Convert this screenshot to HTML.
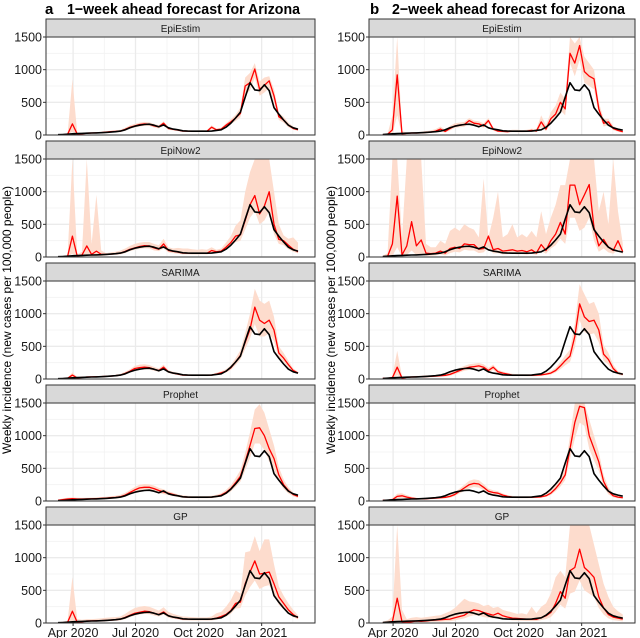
<!DOCTYPE html>
<html><head><meta charset="utf-8">
<style>
html,body{margin:0;padding:0;background:#fff;}
svg{display:block;font-family:"Liberation Sans",sans-serif;}
</style></head>
<body>
<svg id="chart" width="640" height="638" viewBox="0 0 640 638"></svg>
<script>
// ---------- data ----------
const models = ["EpiEstim","EpiNow2","SARIMA","Prophet","GP"];
const tickLabels = ["Apr 2020","Jul 2020","Oct 2020","Jan 2021"];
const tickDays = [22,113,205,297];         // days since 2020-03-10
const yTicks = [0,500,1000,1500];
// observed weekly incidence, week 0 = 2020-03-10
const truth = [5,8,12,18,22,25,28,30,32,35,40,45,50,60,80,110,135,150,160,165,150,125,155,110,90,80,65,60,58,58,58,58,60,70,80,120,180,260,350,580,800,690,680,770,680,420,320,230,150,110,90,75];
// 1-week ahead (weeks 0..50)
const w1Red = [
 [5,5,10,170,15,20,28,30,32,35,45,50,55,60,85,120,140,160,170,165,140,125,180,100,85,75,60,60,55,55,58,55,120,80,90,150,200,260,330,750,800,1010,700,760,830,600,280,230,150,100,80],
 [5,5,10,320,15,30,170,40,90,40,40,45,50,60,85,120,140,160,175,170,140,120,200,100,85,75,60,60,55,55,58,55,100,80,90,150,220,320,340,560,800,940,660,780,1000,500,270,250,180,120,80],
 [5,5,10,60,15,25,30,32,34,36,40,45,50,60,85,120,160,175,180,175,150,130,180,110,90,75,60,60,55,55,58,55,60,75,95,120,170,260,360,560,760,1100,900,850,900,750,400,320,220,130,90],
 [10,20,30,35,30,30,32,34,36,40,45,50,55,65,90,130,170,200,210,210,190,160,140,120,100,80,65,60,58,58,58,58,60,70,90,130,190,280,380,600,850,1110,1120,1000,800,650,400,250,160,100,70],
 [5,5,10,180,10,20,30,32,34,36,40,45,50,60,85,120,150,165,180,175,150,130,170,110,90,75,60,60,55,55,58,55,60,75,100,130,190,300,320,600,780,950,750,760,780,600,400,300,200,130,80]];
const w1Hi = [
 [10,10,20,850,30,30,40,40,45,50,60,65,70,80,110,150,170,190,200,195,170,150,210,125,100,90,75,75,70,70,75,70,150,100,110,180,240,310,420,880,950,1100,820,880,900,700,340,280,190,130,100],
 [10,10,20,1500,40,80,1500,200,950,100,60,70,80,100,130,170,200,220,230,230,200,180,280,150,130,140,130,130,120,110,120,110,150,110,130,220,320,480,560,1000,1300,1500,1500,1500,1500,1000,500,330,280,300,220],
 [10,10,20,100,30,35,40,42,45,48,52,58,65,78,110,150,200,220,225,215,185,160,220,135,110,95,75,75,70,70,72,70,75,95,120,150,210,320,440,700,1000,1380,1200,1150,1200,950,500,400,280,160,110],
 [20,40,50,55,50,48,50,52,55,60,65,72,80,95,125,170,215,250,260,255,235,200,180,150,125,100,85,80,75,75,75,75,80,95,120,170,240,350,470,740,1050,1400,1480,1350,1100,850,520,330,210,130,90],
 [10,20,30,700,60,50,60,60,65,70,80,85,90,100,140,190,230,250,260,250,220,190,240,170,140,120,100,95,90,85,85,85,100,150,170,250,350,500,450,1080,1100,1330,1100,1280,1280,900,560,420,300,200,120]];
const w1Lo = [
 [2,2,5,50,5,12,20,22,24,26,34,38,42,45,65,95,115,130,140,140,115,100,140,80,70,60,48,48,45,45,46,44,90,62,72,120,165,215,270,620,680,880,600,650,720,500,230,190,120,80,65],
 [2,2,5,50,5,10,30,10,20,15,25,30,35,40,60,90,110,125,135,130,100,90,130,70,60,50,40,40,38,38,40,38,60,55,65,110,160,230,250,420,600,700,500,560,700,350,200,180,120,80,55],
 [2,2,5,30,5,18,22,24,26,28,32,36,40,48,68,98,130,145,150,145,125,108,150,90,74,60,48,48,44,44,46,44,48,60,78,98,140,215,300,460,620,840,650,650,700,580,320,260,170,100,72],
 [2,5,12,18,15,15,18,20,22,25,30,34,38,45,65,95,125,150,160,160,145,120,105,90,75,60,48,44,42,42,42,42,45,52,68,98,145,215,295,470,660,880,880,780,600,480,300,185,115,70,48],
 [2,2,3,20,3,8,15,18,20,22,25,30,35,40,60,90,115,130,140,135,115,100,130,80,65,55,42,40,38,38,40,38,40,50,70,95,140,220,230,420,550,650,520,560,580,430,280,210,140,90,55]];
// 2-week ahead (weeks 1..51)
const w2Red = [
 [5,10,80,920,20,25,30,30,32,40,45,60,90,55,100,140,150,160,220,180,170,140,220,90,60,55,50,60,58,55,60,70,60,200,90,250,320,500,400,1250,1100,1370,970,900,860,400,180,200,100,70,50],
 [5,10,200,930,30,170,540,170,260,60,50,60,90,60,130,150,130,200,190,190,120,130,320,110,130,90,100,110,90,100,80,110,60,190,100,250,350,530,350,1100,1100,800,950,1110,450,170,270,150,100,250,80],
 [10,10,20,180,15,25,30,32,35,38,40,45,50,55,70,100,130,160,180,190,200,180,130,180,110,90,75,60,58,58,56,56,60,65,75,90,130,200,280,350,650,1150,950,880,900,750,380,300,160,90,70],
 [10,10,20,70,80,60,45,35,32,35,40,45,50,55,70,100,150,200,250,270,260,210,150,130,120,90,70,60,55,56,56,58,60,65,80,120,190,280,400,800,1200,1450,1430,1000,800,600,300,150,80,60,50],
 [5,10,20,380,20,10,20,30,25,30,40,45,50,55,60,80,100,120,170,200,190,160,140,120,150,110,90,75,70,65,58,60,55,80,110,160,300,480,380,800,850,1130,850,780,700,400,230,130,90,75,60]];
const w2Hi = [
 [10,20,300,1500,60,40,45,45,50,60,70,90,130,80,140,180,190,200,260,220,210,180,260,120,80,75,70,80,80,75,80,95,90,300,150,350,450,650,550,1500,1400,1500,1200,1100,1000,500,250,250,140,95,70],
 [20,60,1500,1500,300,1500,1500,1500,1500,200,150,150,250,200,400,450,400,500,450,420,300,1200,300,600,1000,300,350,500,300,350,300,400,300,700,350,600,800,1100,1100,1500,1500,1500,1500,1500,1500,700,1000,500,1500,700,200],
 [20,20,40,430,40,40,45,48,50,55,58,62,70,75,95,130,170,200,225,235,245,225,170,220,140,115,95,80,75,75,72,72,78,85,98,118,170,260,360,450,850,1450,1300,1150,1180,1000,520,400,220,120,90],
 [20,20,40,110,120,90,65,50,45,48,55,62,70,78,95,130,190,250,310,330,320,260,190,165,150,115,90,78,72,72,72,75,78,85,105,155,250,360,500,1000,1500,1500,1500,1250,1000,750,400,210,110,80,65],
 [20,40,100,1500,200,60,80,90,80,90,100,110,120,150,180,230,300,370,330,320,300,260,280,230,250,200,180,160,140,150,130,250,150,250,300,450,700,800,700,1500,1500,1500,1500,1500,1200,900,600,400,250,180,130]];
const w2Lo = [
 [2,3,10,300,5,12,18,18,20,25,30,40,60,35,70,110,120,125,180,145,135,110,180,65,45,40,38,45,42,40,45,50,45,120,60,180,240,380,300,1100,900,1150,800,750,700,320,130,150,75,50,35],
 [2,3,20,150,5,30,100,30,50,20,20,25,40,25,60,80,70,110,100,100,60,70,150,55,60,40,45,50,40,45,35,50,30,90,50,130,180,280,200,600,600,400,450,600,250,80,130,70,50,120,40],
 [2,3,5,60,5,15,20,22,24,26,28,32,36,40,50,75,100,125,140,150,160,140,100,140,85,70,58,45,44,44,42,42,45,50,56,68,100,150,210,260,480,900,720,680,700,560,280,220,120,65,50],
 [3,3,8,40,50,40,30,22,20,23,28,32,36,40,50,75,115,155,195,215,205,165,115,100,95,70,55,46,42,42,42,44,46,50,62,92,150,220,320,640,950,1200,1150,800,620,460,220,100,55,40,35],
 [2,2,3,20,5,3,8,12,10,12,15,18,20,25,28,40,55,70,100,120,110,90,80,70,85,60,50,40,38,35,30,30,30,45,60,90,170,280,220,450,480,650,500,450,400,230,130,70,45,35,25]];

// ---------- drawing ----------
const NS = "http://www.w3.org/2000/svg";
const svg = document.getElementById("chart");
function mk(tag, attrs, parent){
  const e = document.createElementNS(NS, tag);
  for (const k in attrs) e.setAttribute(k, attrs[k]);
  (parent||svg).appendChild(e);
  return e;
}
const cols = [
  {x0:46, x1:315, org:58, key:"a", title:"1\u2212week ahead forecast for Arizona", red:w1Red, hi:w1Hi, lo:w1Lo, start:0, ylab:6, tx:45},
  {x0:369, x1:635, org:378, key:"b", title:"2\u2212week ahead forecast for Arizona", red:w2Red, hi:w2Hi, lo:w2Lo, start:1, ylab:330, tx:370}
];
const PX_PER_DAY = 4.8/7;
const rowStep = 122, stripTop = 19, stripH = 18, plotH = 98;

cols.forEach((c, ci) => {
  const xDay = d => c.org + d*PX_PER_DAY;
  const xWeek = k => xDay(k*7);
  const tk = mk("text",{x:c.tx, y:14, "font-size":15, "font-weight":"bold", fill:"#000"});
  
  
  tk.textContent = c.key;
  const t = mk("text",{x:c.tx+22, y:14, "font-size":15, "font-weight":"bold", fill:"#000", textLength:233, lengthAdjust:"spacingAndGlyphs"});
  
  
  t.textContent = c.title;

  const yl = mk("text",{x:c.ylab+5, y:320, "font-size":12, fill:"#000", "text-anchor":"middle", transform:`rotate(-90 ${c.ylab+5} 320)`});
  
  
  yl.textContent = "Weekly incidence (new cases per 100,000 people)";

  models.forEach((m, r) => {
    const sTop = stripTop + r*rowStep, pTop = sTop + stripH, pBot = pTop + plotH;
    const y = v => pTop + (1 - Math.min(v,1500)/1500)*plotH;
    const g = mk("g",{});
    
    
    const clipId = "clip"+ci+r;
    const cp = mk("clipPath",{id:clipId}, g);
    mk("rect",{x:c.x0, y:pTop, width:c.x1-c.x0, height:plotH}, cp);
    const st = mk("rect",{x:c.x0, y:sTop, width:c.x1-c.x0, height:stripH, fill:"#d9d9d9", stroke:"#333", "stroke-width":1}, g);
    
    
    const stt = mk("text",{x:(c.x0+c.x1)/2, y:sTop+13, "font-size":10, fill:"#1a1a1a", "text-anchor":"middle"}, g);
    
    
    stt.textContent = m;
    const minorD = [tickDays[0]-45.5];
    for (let i=0;i<tickDays.length-1;i++) minorD.push((tickDays[i]+tickDays[i+1])/2);
    minorD.push(tickDays[3]+45.5);
    minorD.forEach(d => { const xx=xDay(d); if (xx>c.x0 && xx<c.x1) mk("line",{x1:xx,x2:xx,y1:pTop,y2:pBot,stroke:"#f2f2f2","stroke-width":0.8}, g); });
    [250,750,1250].forEach(v => mk("line",{x1:c.x0,x2:c.x1,y1:y(v),y2:y(v),stroke:"#f2f2f2","stroke-width":0.8}, g));
    tickDays.forEach(d => mk("line",{x1:xDay(d),x2:xDay(d),y1:pTop,y2:pBot,stroke:"#ebebeb","stroke-width":1.3}, g));
    yTicks.forEach(v => {
      mk("line",{x1:c.x0,x2:c.x1,y1:y(v),y2:y(v),stroke:"#ebebeb","stroke-width":1.3}, g);
      mk("line",{x1:c.x0-3,x2:c.x0,y1:y(v),y2:y(v),stroke:"#333","stroke-width":1}, g);
      const tl = mk("text",{x:c.x0-4, y:y(v)+4.5, "font-size":12.5, fill:"#1a1a1a", "text-anchor":"end"}, g);
      
      
      tl.textContent = v;
    });
    const hi = c.hi[r], lo = c.lo[r], red = c.red[r];
    let d = "";
    hi.forEach((v,i) => { d += (i?"L":"M") + xWeek(i+c.start).toFixed(1) + "," + y(v).toFixed(1); });
    for (let i=lo.length-1;i>=0;i--) d += "L" + xWeek(i+c.start).toFixed(1) + "," + y(lo[i]).toFixed(1);
    const band = mk("path",{d:d+"Z", fill:"#fddccd", "clip-path":`url(#${clipId})`}, g);
    
    
    const rl = mk("polyline",{points: red.map((v,i)=>xWeek(i+c.start).toFixed(1)+","+y(v).toFixed(1)).join(" "), fill:"none", stroke:"#ff0000", "stroke-width":1.3, "stroke-linejoin":"round", "clip-path":`url(#${clipId})`}, g);
    
    
    const tr = truth.slice(c.start, c.start+red.length);
    const bl = mk("polyline",{points: tr.map((v,i)=>xWeek(i+c.start).toFixed(1)+","+y(v).toFixed(1)).join(" "), fill:"none", stroke:"#000", "stroke-width":1.6, "stroke-linejoin":"round"}, g);
    
    
    mk("rect",{x:c.x0, y:pTop, width:c.x1-c.x0, height:plotH, fill:"none", stroke:"#333", "stroke-width":1}, g);
    if (r === models.length-1) {
      tickDays.forEach((dd,i) => {
        mk("line",{x1:xDay(dd),x2:xDay(dd),y1:pBot,y2:pBot+3,stroke:"#333","stroke-width":1}, g);
        const xl = mk("text",{x:xDay(dd), y:pBot+14, "font-size":12.5, fill:"#1a1a1a", "text-anchor":"middle"}, g);
        
        
        xl.textContent = tickLabels[i];
      });
    }
  });
});
</script>
</body></html>
